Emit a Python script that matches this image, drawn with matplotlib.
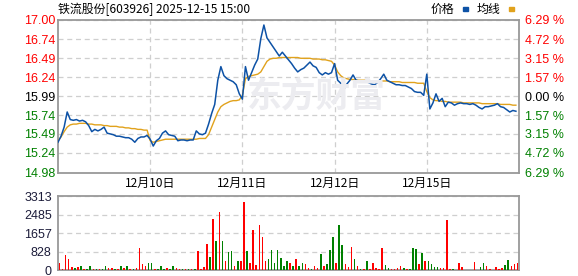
import matplotlib
matplotlib.use("Agg")
import matplotlib.pyplot as plt
from matplotlib.patches import Rectangle
import numpy as np

plt.rcParams['font.family'] = ['Noto Sans CJK SC', 'DejaVu Sans']

# ---------------- data ----------------
day_labels = ["12月10日", "12月11日", "12月12日", "12月15日"]
price_ticks = [14.98, 15.24, 15.49, 15.74, 15.99, 16.24, 16.49, 16.74, 17.00]
pct_labels = ["6.29 %", "4.72 %", "3.15 %", "1.57 %", "0.00 %", "1.57 %", "3.15 %", "4.72 %", "6.29 %"]
vol_ticks = [0, 828, 1657, 2485, 3313]
prev_close = 15.99

price_d1 = [15.38,15.46,15.58,15.78,15.68,15.67,15.68,15.66,15.67,15.65,15.60,15.52,15.55,15.53,15.55,
            15.58,15.50,15.49,15.48,15.46,15.46,15.45,15.44,15.44,15.42,15.38,15.43,15.45,15.45,15.47]
price_d2 = [15.42,15.33,15.40,15.43,15.50,15.53,15.48,15.47,15.46,15.40,15.41,15.41,15.40,15.41,15.41,
            15.53,15.49,15.48,15.50,15.62,15.76,15.88,16.20,16.38,16.26,16.22,16.20,16.18,16.14,16.02]
price_d3 = [15.95,16.38,16.20,16.30,16.40,16.48,16.75,16.93,16.76,16.70,16.64,16.58,16.52,16.57,16.52,
            16.47,16.42,16.36,16.31,16.34,16.36,16.40,16.44,16.39,16.37,16.30,16.27,16.30,16.28,16.30]
price_d4 = [16.42,16.20,16.16,16.08,16.15,16.20,16.27,16.20,16.19,16.18,16.19,16.17,16.15,16.14,16.17,
            16.22,16.28,16.20,16.18,16.16,16.14,16.14,16.13,16.13,16.11,16.09,16.05,16.04,16.04,16.00]
price_d5 = [16.28,15.82,15.90,16.02,15.92,15.96,15.85,15.91,15.90,15.87,15.89,15.90,15.89,15.89,15.88,
            15.89,15.87,15.84,15.82,15.85,15.85,15.86,15.87,15.89,15.85,15.84,15.81,15.78,15.80,15.79]

avg_d1 = [15.40,15.45,15.52,15.58,15.61,15.62,15.62,15.63,15.63,15.63,15.62,15.62,15.61,15.61,15.61,
          15.60,15.60,15.59,15.59,15.59,15.58,15.58,15.57,15.57,15.56,15.56,15.55,15.55,15.54,15.54]
avg_d2 = [15.40,15.38,15.39,15.40,15.41,15.42,15.42,15.42,15.42,15.42,15.42,15.42,15.42,15.42,15.42,
          15.42,15.43,15.43,15.43,15.48,15.58,15.68,15.78,15.85,15.88,15.90,15.92,15.93,15.93,15.94]
avg_d3 = [16.00,16.22,16.25,16.26,16.27,16.28,16.31,16.38,16.45,16.48,16.49,16.49,16.50,16.50,16.50,
          16.50,16.50,16.50,16.50,16.49,16.49,16.49,16.49,16.48,16.48,16.48,16.47,16.47,16.46,16.45]
avg_d4 = [16.40,16.31,16.26,16.23,16.22,16.21,16.21,16.20,16.20,16.20,16.20,16.20,16.19,16.19,16.19,
          16.19,16.19,16.19,16.18,16.18,16.18,16.18,16.17,16.17,16.17,16.17,16.17,16.16,16.16,16.16]
avg_d5 = [16.05,15.97,15.94,15.93,15.93,15.92,15.92,15.91,15.91,15.91,15.91,15.91,15.90,15.90,15.90,
          15.90,15.90,15.90,15.89,15.89,15.89,15.89,15.89,15.89,15.88,15.88,15.88,15.88,15.87,15.87]

vol_d1 = [330,60,680,490,120,80,130,180,50,40,180,40,40,40,40,180,100,80,40,40,180,80,180,40,40,80,990,290,180,330]
vol_d2 = [330,60,60,180,40,90,40,180,90,40,40,40,40,40,40,840,60,150,1170,590,2265,1290,2615,1290,410,790,840,180,410,410]
vol_d3 = [3040,870,300,1810,230,2000,1500,410,490,900,330,900,560,180,410,330,180,490,180,330,290,80,60,180,100,720,180,290,900,1470]
vol_d4 = [300,2000,1140,250,120,1050,490,180,30,30,410,30,300,80,40,990,230,70,30,30,80,160,80,40,30,990,940,290,780,410]
vol_d5 = [410,250,130,130,70,70,2230,30,30,20,320,130,20,20,20,360,20,130,320,180,40,20,130,30,100,220,450,180,270,330]

dir_d1 = "rrrrrgrgrggrgrggrrgrgrgrgrrrrg"
dir_d2 = "grgggrggrrgrgrgrrrrgrgrgrggrgr"
dir_d3 = "rgrrrrrrgggggggrgrggrrgrrgrggg"
dir_d4 = "rggrrrgrgrgrrrrrggrrrrgrgggrgr"
dir_d5 = "ggggrrrrgrrrrrrrrggrrrrrrggrrr"

# ---------------- assemble ----------------
price = np.array(price_d1 + price_d2 + price_d3 + price_d4 + price_d5)
avg = np.array(avg_d1 + avg_d2 + avg_d3 + avg_d4 + avg_d5)
vol = np.array(vol_d1 + vol_d2 + vol_d3 + vol_d4 + vol_d5)
dirs = dir_d1 + dir_d2 + dir_d3 + dir_d4 + dir_d5
n_per_day = len(price_d1)
n = len(price)
x = np.arange(n)

RED = '#ff0000'
GREEN = '#008000'
BLUE = '#0d52a6'
GOLD = '#e1a21c'
GRID = '#cfcfcf'
SPINE = '#999999'
num_font = 'Liberation Sans'

fig = plt.figure(figsize=(5.78, 2.76), dpi=100)
ax = fig.add_axes([0.1003, 0.375, 0.7976, 0.5536])
vax = fig.add_axes([0.1003, 0.0217, 0.7976, 0.268])

# watermark
fig.text(0.548, 0.652, "东方财富", fontsize=25, fontweight='bold', color='#ececf0',
         ha='center', va='center', zorder=0)

# price panel
ax.set_facecolor('none')
ax.plot(x, avg, color=GOLD, lw=1.0, zorder=3)
ax.plot(x, price, color=BLUE, lw=1.1, zorder=4)
ax.set_xlim(0, n)
ax.set_ylim(price_ticks[0], price_ticks[-1])
ax.set_yticks(price_ticks)
ax.set_yticklabels([f"{t:.2f}" for t in price_ticks], fontfamily=num_font, fontsize=9)
for t, lab in zip(price_ticks, ax.get_yticklabels()):
    lab.set_color(RED if t > prev_close + 1e-9 else (GREEN if t < prev_close - 1e-9 else 'black'))
bounds = [n_per_day * k for k in range(1, 5)]
ax.set_xticks(bounds)
ax.set_xticklabels(day_labels, fontsize=8.6)
ax.tick_params(axis='both', length=0)
ax.tick_params(axis='y', pad=1.8)
ax.tick_params(axis='x', pad=3.0)
ax.grid(True, color=GRID, lw=0.9, linestyle=(0, (4, 3)))
for s in ax.spines.values():
    s.set_color(SPINE)
    s.set_linewidth(1.3)

ax2 = ax.twinx()
ax2.set_ylim(price_ticks[0], price_ticks[-1])
ax2.set_yticks(price_ticks)
ax2.set_yticklabels(pct_labels, fontfamily=num_font, fontsize=9)
for t, lab in zip(price_ticks, ax2.get_yticklabels()):
    lab.set_color(RED if t > prev_close + 1e-9 else (GREEN if t < prev_close - 1e-9 else 'black'))
ax2.tick_params(axis='y', length=0, pad=4)
for s in ax2.spines.values():
    s.set_visible(False)

# volume panel
colors = [RED if c == 'r' else GREEN for c in dirs]
vax.bar(x + 0.5, vol, width=0.5, color=colors, linewidth=0, zorder=3)
vax.set_xlim(0, n)
vax.set_ylim(vol_ticks[0], vol_ticks[-1])
vax.set_yticks(vol_ticks)
vax.set_yticklabels([str(v) for v in vol_ticks], fontfamily=num_font, fontsize=9, color='#1c1c3a')
vax.set_xticks([])
vax.tick_params(axis='y', length=0, pad=4.5)
vax.grid(True, axis='y', color=GRID, lw=0.9, linestyle=(0, (4, 3)))
for s in vax.spines.values():
    s.set_color(SPINE)
    s.set_linewidth(1.3)

# title & legend
fig.text(0.1003, 0.966, "铁流股份[603926] 2025-12-15 15:00", fontsize=8.6, color='black',
         ha='left', va='center')
fig.text(0.786, 0.966, "价格", fontsize=8.6, color='black', ha='right', va='center')
fig.patches.append(Rectangle((462.5 / 578, 1 - 10.5 / 276), 5 / 578, 3.5 / 276,
                             transform=fig.transFigure, color=BLUE, figure=fig))
fig.text(0.866, 0.966, "均线", fontsize=8.6, color='black', ha='right', va='center')
fig.patches.append(Rectangle((508.5 / 578, 1 - 10.5 / 276), 5 / 578, 3.5 / 276,
                             transform=fig.transFigure, color=GOLD, figure=fig))

fig.savefig("out.png", dpi=100)
